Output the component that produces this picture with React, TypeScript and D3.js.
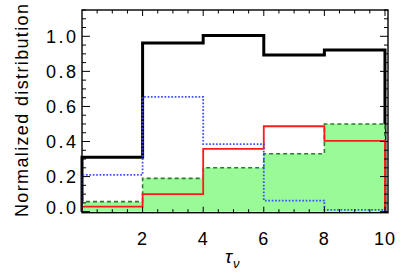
import * as d3 from "d3";

// bin edges along tau_nu and the five histograms
const edges = [0, 2, 4, 6, 8, 10];
const blackVals = [0.31, 0.962, 1.005, 0.893, 0.922];
const blueVals = [0.21, 0.654, 0.385, 0.063, 0.01];
const redVals = [0.029, 0.1, 0.358, 0.487, 0.404];
const greenVals = [0.057, 0.19, 0.25, 0.33, 0.5];

const xTicks = [2, 4, 6, 8, 10];
const yTicks = [0, 0.2, 0.4, 0.6, 0.8, 1.0];

const W = 409;
const H = 273;
const font = "'Liberation Sans', Arial, Helvetica, sans-serif";

const x = d3.scaleLinear().domain([0, 10.1]).range([82, 388]);
const y = d3.scaleLinear().domain([-0.006, 1.15]).range([212.7, 10]);

// histogram outline: start at 0, step through each bin, drop back to 0
function stepPoints(vals: number[]): [number, number][] {
  const pts: [number, number][] = [[edges[0], 0]];
  vals.forEach((v, i) => {
    pts.push([edges[i], v]);
    pts.push([edges[i + 1], v]);
  });
  pts.push([edges[edges.length - 1], 0]);
  return pts;
}

const line = d3
  .line<[number, number]>()
  .x((d) => x(d[0]))
  .y((d) => y(d[1]));

const area = d3
  .area<[number, number]>()
  .x((d) => x(d[0]))
  .y0(y(0))
  .y1((d) => y(d[1]));

export default function App() {
  const [x0, x1] = x.range();
  const [yb, yt] = y.range();
  const xMinor = d3.range(0.5, 10.1, 0.5);
  const yMinor = d3.range(0, 1.151, 0.05);

  return (
    <svg
      width={W}
      height={H}
      style={{ position: "absolute", left: 0, top: 0, background: "#fff" }}
      fontFamily={font}
    >
      {/* black total first, the others are drawn over it */}
      <path d={line(stepPoints(blackVals)) ?? ""} fill="none" stroke="#000" strokeWidth={3} />

      {/* green filled histogram */}
      <path d={area(stepPoints(greenVals)) ?? ""} fill="#98fb98" stroke="none" />
      <path
        d={line(stepPoints(greenVals)) ?? ""}
        fill="none"
        stroke="#2a7d2a"
        strokeWidth={1.6}
        strokeDasharray="4,3"
      />
      <path d={line(stepPoints(redVals)) ?? ""} fill="none" stroke="#ff1a1a" strokeWidth={1.8} />
      <path
        d={line(stepPoints(blueVals)) ?? ""}
        fill="none"
        stroke="#3f4fff"
        strokeWidth={1.8}
        strokeDasharray="1.7,1.7"
      />

      {/* frame */}
      <rect x={x0} y={yt} width={x1 - x0} height={yb - yt} fill="none" stroke="#000" strokeWidth={1.4} />

      {/* x ticks, bottom and top, inward */}
      {xMinor.map((t) => {
        const major = Math.abs(t / 2 - Math.round(t / 2)) < 1e-6;
        const len = major ? 6 : 3.5;
        return (
          <g key={"xt" + t} stroke="#000" strokeWidth={1}>
            <line x1={x(t)} x2={x(t)} y1={yb} y2={yb - len} />
            <line x1={x(t)} x2={x(t)} y1={yt} y2={yt + len} />
          </g>
        );
      })}
      {/* y ticks, left and right, inward */}
      {yMinor.map((t) => {
        const major = Math.abs(t / 0.2 - Math.round(t / 0.2)) < 1e-6;
        const len = major ? 8 : 4;
        return (
          <g key={"yt" + t.toFixed(2)} stroke="#000" strokeWidth={1}>
            <line x1={x0} x2={x0 + len} y1={y(t)} y2={y(t)} />
            <line x1={x1} x2={x1 - len} y1={y(t)} y2={y(t)} />
          </g>
        );
      })}

      {/* tick labels */}
      {xTicks.map((t) => (
        <text key={"xl" + t} x={x(t)} y={244.5} fontSize={18} textAnchor="middle" letterSpacing={1}>
          {t}
        </text>
      ))}
      {yTicks.map((t) => (
        <text
          key={"yl" + t}
          x={78.5}
          y={Math.min(y(t), y(0) - 4) + 6.5}
          fontSize={18}
          textAnchor="end"
          letterSpacing={2.5}
        >
          {t.toFixed(1)}
        </text>
      ))}

      {/* axis titles */}
      <text
        transform="translate(27.5,110.5) rotate(-90)"
        fontSize={18}
        textAnchor="middle"
        textLength={213}
        lengthAdjust="spacing"
      >
        Normalized distribution
      </text>
      <text x={225} y={263} fontSize={19} fontStyle="italic">
        τ
        <tspan fontSize={13} dy={5} dx={1}>
          ν
        </tspan>
      </text>
    </svg>
  );
}
